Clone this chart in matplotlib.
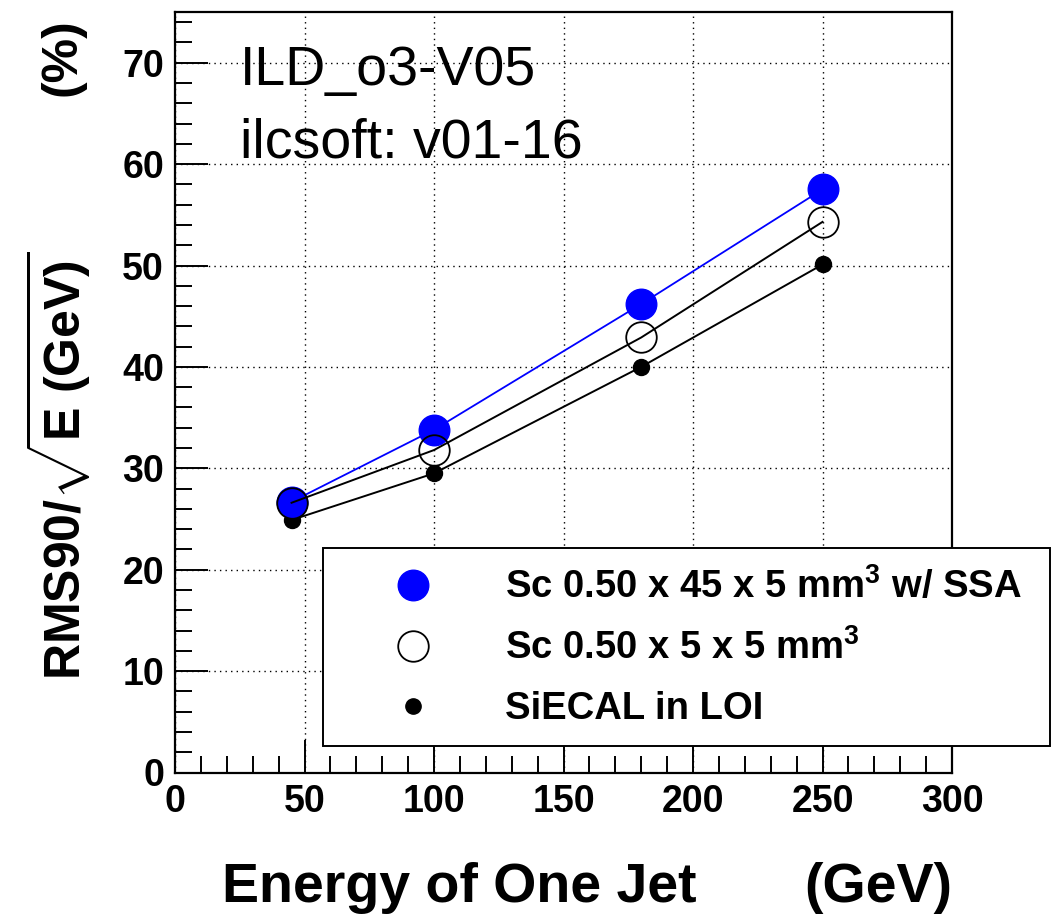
import matplotlib
matplotlib.use("Agg")
import matplotlib.pyplot as plt
from matplotlib.lines import Line2D
from matplotlib.ticker import MultipleLocator

plt.rcParams['font.family'] = ['Liberation Sans', 'DejaVu Sans']
plt.rcParams['mathtext.fontset'] = 'custom'
plt.rcParams['mathtext.rm'] = 'Liberation Sans:bold'
plt.rcParams['mathtext.bf'] = 'Liberation Sans:bold'
plt.rcParams['mathtext.it'] = 'Liberation Sans:bold'

# Jet energy (GeV) and RMS90/sqrt(E) (%)
energy = [45, 100, 180, 250]
sc_strip_ssa = [26.7, 33.8, 46.2, 57.5]
sc_square = [26.6, 31.8, 42.9, 54.3]
siecal_loi = [24.9, 29.5, 40.0, 50.1]

labels = [r'Sc 0.50 x 45 x 5 mm$^{\mathbf{3}}$ w/ SSA',
          r'Sc 0.50 x 5 x 5 mm$^{\mathbf{3}}$',
          'SiECAL in LOI']

W, H = 1061, 914
fig = plt.figure(figsize=(W / 100, H / 100), dpi=100)
ax = fig.add_axes([175 / W, 1 - 772.5 / H, (952 - 175) / W, (772.5 - 12) / H])

ax.plot(energy, siecal_loi, color='black', lw=1.4, marker='o', ms=11.5,
        mfc='black', mec='black', zorder=3)
ax.plot(energy, sc_strip_ssa, color='blue', lw=1.3, marker='o', ms=22,
        mfc='blue', mec='blue', zorder=4)
ax.plot(energy, sc_square, color='black', lw=1.4, marker='o', ms=22,
        mfc='none', mec='black', mew=1.3, zorder=5)

ax.set_xlim(0, 300)
ax.set_ylim(0, 75)
ax.xaxis.set_major_locator(MultipleLocator(50))
ax.xaxis.set_minor_locator(MultipleLocator(10))
ax.yaxis.set_major_locator(MultipleLocator(10))
ax.yaxis.set_minor_locator(MultipleLocator(2))
ax.tick_params(which='both', direction='in', top=False, right=False,
               width=1.4, color='black')
ax.tick_params(which='major', length=24, labelsize=27, pad=8)
ax.tick_params(which='minor', length=12)
for lab in ax.get_xticklabels() + ax.get_yticklabels():
    lab.set_fontweight('bold')
for sp in ax.spines.values():
    sp.set_linewidth(1.6)

ax.grid(True, which='major', color='black', lw=1.0, ls=(0, (1, 3)))
ax.set_axisbelow(True)

ax.text(240 / W, 1 - 85 / H, 'ILD_o3-V05', transform=fig.transFigure,
        fontsize=40, ha='left', va='baseline')
ax.text(240 / W, 1 - 157 / H, 'ilcsoft: v01-16', transform=fig.transFigure,
        fontsize=40, ha='left', va='baseline')

fig.text(222 / W, 1 - 902 / H, 'Energy of One Jet',
         fontsize=40, fontweight='bold', ha='left', va='baseline')
fig.text(952 / W, 1 - 902 / H, '(GeV)',
         fontsize=40, fontweight='bold', ha='right', va='baseline')

fig.text(58 / W, 1 - 680 / H, r'RMS90/$\sqrt{\mathbf{E\ (GeV)}}$',
         fontsize=36, fontweight='bold', rotation=90, ha='center', va='bottom')
fig.text(62 / W, 1 - 18 / H, '(%)', fontsize=36, fontweight='bold',
         rotation=90, ha='center', va='top')

handles = [
    Line2D([], [], ls='none', marker='o', ms=22, mfc='blue', mec='blue'),
    Line2D([], [], ls='none', marker='o', ms=22, mfc='none', mec='black', mew=1.3),
    Line2D([], [], ls='none', marker='o', ms=11, mfc='black', mec='black'),
]
leg = fig.legend(handles, labels, loc='upper left',
                 bbox_to_anchor=(323 / W, 1 - 548 / H - 0.01, (1050 - 323) / W, 0.01),
                 mode='expand', frameon=True, fancybox=False, framealpha=1,
                 edgecolor='black', borderaxespad=0, borderpad=0.5,
                 handlelength=3.72, handletextpad=0.55, labelspacing=0.62,
                 numpoints=1, prop={'weight': 'bold', 'size': 27.5})
leg.get_frame().set_linewidth(1.4)

fig.savefig('out.png', dpi=100)
